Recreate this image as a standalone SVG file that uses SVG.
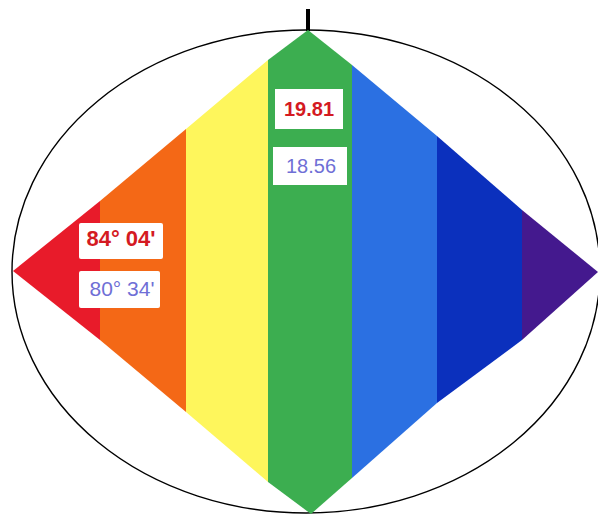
<svg xmlns="http://www.w3.org/2000/svg" width="598" height="516" viewBox="0 0 598 516">
<style>
.box{fill:#ffffff}
.t{font-family:"Liberation Sans",Arial,sans-serif}
.r{fill:#d41a22;font-weight:bold}
.b{fill:#6f6fd6}
</style>
<rect width="598" height="516" fill="#ffffff"/>
<ellipse cx="306" cy="271.5" rx="294" ry="241.5" fill="none" stroke="#000" stroke-width="1.4"/>
<rect x="306" y="9" width="4" height="22" fill="#000"/>
<g id="bands">
<polygon fill="#e81b2a" points="13,271 100,201 100,340"/>
<polygon fill="#f46816" points="100,201 186,129 186,412 100,340"/>
<polygon fill="#fef65c" points="186,129 268,60 268,482 186,412"/>
<polygon fill="#3cae50" points="268,60 308,30 352,65 352,478 311,514 268,482"/>
<polygon fill="#2b70e2" points="352,65 437,136 437,403 352,478"/>
<polygon fill="#0b30bd" points="437,136 522,210 522,340 437,403"/>
<polygon fill="#44198e" points="522,210 598,272 522,340"/>
</g>
<g id="label-84">
<rect class="box" x="79" y="223" width="84" height="36" rx="2"/>
<text class="t r" x="121" y="246" font-size="22" text-anchor="middle">84° 04'</text>
</g>
<g id="label-80">
<rect class="box" x="79" y="271" width="81" height="37" rx="2"/>
<text class="t b" x="122" y="296" font-size="21" text-anchor="middle">80° 34'</text>
</g>
<g id="label-1981">
<rect class="box" x="275" y="89" width="68" height="40"/>
<text class="t r" x="309" y="116" font-size="20" text-anchor="middle">19.81</text>
</g>
<g id="label-1856">
<rect class="box" x="273" y="147" width="74" height="38"/>
<text class="t b" x="311" y="173" font-size="20" text-anchor="middle">18.56</text>
</g>
</svg>
